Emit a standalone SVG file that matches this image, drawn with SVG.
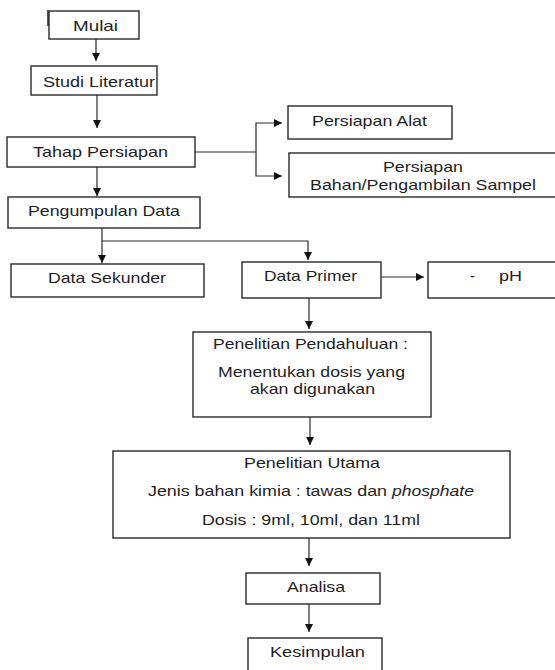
<svg xmlns="http://www.w3.org/2000/svg" width="555" height="670" viewBox="0 0 555 670">
<style>
.box{fill:#fff;stroke:#2a2a2a;stroke-width:1.4}
.t{font-family:"Liberation Sans",Arial,sans-serif;font-size:15px;fill:#1e1e1e}
.i{font-style:italic}
.c{fill:none;stroke:#2a2a2a;stroke-width:1.2}
</style>
<defs>
<marker id="ah" markerUnits="userSpaceOnUse" markerWidth="9" markerHeight="9" refX="8" refY="4" orient="auto">
<path d="M0,0 L8,4 L0,8 z" fill="#111"/>
</marker>
</defs>
<rect width="555" height="670" fill="#fff"/>
<g id="connectors">
<path class="c" d="M96,39 V61" marker-end="url(#ah)"/>
<path class="c" d="M97,95 V128" marker-end="url(#ah)"/>
<path class="c" d="M195,152 H256"/>
<path class="c" d="M256,152 V123 H282" marker-end="url(#ah)"/>
<path class="c" d="M256,152 V176 H282" marker-end="url(#ah)"/>
<path class="c" d="M97,167 V196" marker-end="url(#ah)"/>
<path class="c" d="M102,228 V263" marker-end="url(#ah)"/>
<path class="c" d="M102,241 H308 V260" marker-end="url(#ah)"/>
<path class="c" d="M381,277 H424" marker-end="url(#ah)"/>
<path class="c" d="M309,298 V329" marker-end="url(#ah)"/>
<path class="c" d="M310,417 V445" marker-end="url(#ah)"/>
<path class="c" d="M309,538 V566" marker-end="url(#ah)"/>
<path class="c" d="M309,604 V632" marker-end="url(#ah)"/>
</g>
<g id="mulai">
<rect class="box" x="49" y="11" width="90" height="28"/>
<path d="M48,10 V26" stroke="#2a2a2a" stroke-width="1.6"/>
<text class="t" x="73" y="31" textLength="45" lengthAdjust="spacingAndGlyphs">Mulai</text>
</g>
<g id="studi">
<rect class="box" x="31" y="66" width="126" height="29"/>
<text class="t" x="43" y="87" textLength="112" lengthAdjust="spacingAndGlyphs">Studi Literatur</text>
</g>
<g id="tahap">
<rect class="box" x="7" y="137" width="188" height="30"/>
<text class="t" x="33" y="157" textLength="135" lengthAdjust="spacingAndGlyphs">Tahap Persiapan</text>
</g>
<g id="alat">
<rect class="box" x="288" y="106" width="164" height="33"/>
<text class="t" x="312" y="126" textLength="115" lengthAdjust="spacingAndGlyphs">Persiapan Alat</text>
</g>
<g id="bahan">
<rect class="box" x="289" y="153" width="275" height="44"/>
<text class="t" x="383" y="172" textLength="80" lengthAdjust="spacingAndGlyphs">Persiapan</text>
<text class="t" x="310" y="190" textLength="226" lengthAdjust="spacingAndGlyphs">Bahan/Pengambilan Sampel</text>
</g>
<g id="pengumpulan">
<rect class="box" x="8" y="197" width="192" height="31"/>
<text class="t" x="28" y="216" textLength="152" lengthAdjust="spacingAndGlyphs">Pengumpulan Data</text>
</g>
<g id="sekunder">
<rect class="box" x="11" y="264" width="193" height="33"/>
<text class="t" x="48" y="283" textLength="118" lengthAdjust="spacingAndGlyphs">Data Sekunder</text>
</g>
<g id="primer">
<rect class="box" x="242" y="262" width="139" height="36"/>
<text class="t" x="264" y="281" textLength="93" lengthAdjust="spacingAndGlyphs">Data Primer</text>
</g>
<g id="ph">
<rect class="box" x="428" y="262" width="135" height="36"/>
<text class="t" x="470" y="281">-</text>
<text class="t" x="499" y="281" textLength="23" lengthAdjust="spacingAndGlyphs">pH</text>
</g>
<g id="pendahuluan">
<rect class="box" x="193" y="332" width="238" height="85"/>
<text class="t" x="213" y="349" textLength="195" lengthAdjust="spacingAndGlyphs">Penelitian Pendahuluan :</text>
<text class="t" x="218" y="377" textLength="187" lengthAdjust="spacingAndGlyphs">Menentukan dosis yang</text>
<text class="t" x="250" y="394" textLength="125" lengthAdjust="spacingAndGlyphs">akan digunakan</text>
</g>
<g id="utama">
<rect class="box" x="113" y="451" width="397" height="87"/>
<text class="t" x="244" y="468" textLength="136" lengthAdjust="spacingAndGlyphs">Penelitian Utama</text>
<text class="t" x="148" y="496" textLength="239" lengthAdjust="spacingAndGlyphs">Jenis bahan kimia : tawas dan</text>
<text class="t i" x="392" y="496" textLength="82" lengthAdjust="spacingAndGlyphs">phosphate</text>
<text class="t" x="202" y="525" textLength="218" lengthAdjust="spacingAndGlyphs">Dosis : 9ml, 10ml, dan 11ml</text>
</g>
<g id="analisa">
<rect class="box" x="246" y="573" width="134" height="31"/>
<text class="t" x="287" y="592" textLength="58" lengthAdjust="spacingAndGlyphs">Analisa</text>
</g>
<g id="kesimpulan">
<rect class="box" x="248" y="638" width="134" height="40"/>
<text class="t" x="270" y="657" textLength="95" lengthAdjust="spacingAndGlyphs">Kesimpulan</text>
</g>
</svg>
